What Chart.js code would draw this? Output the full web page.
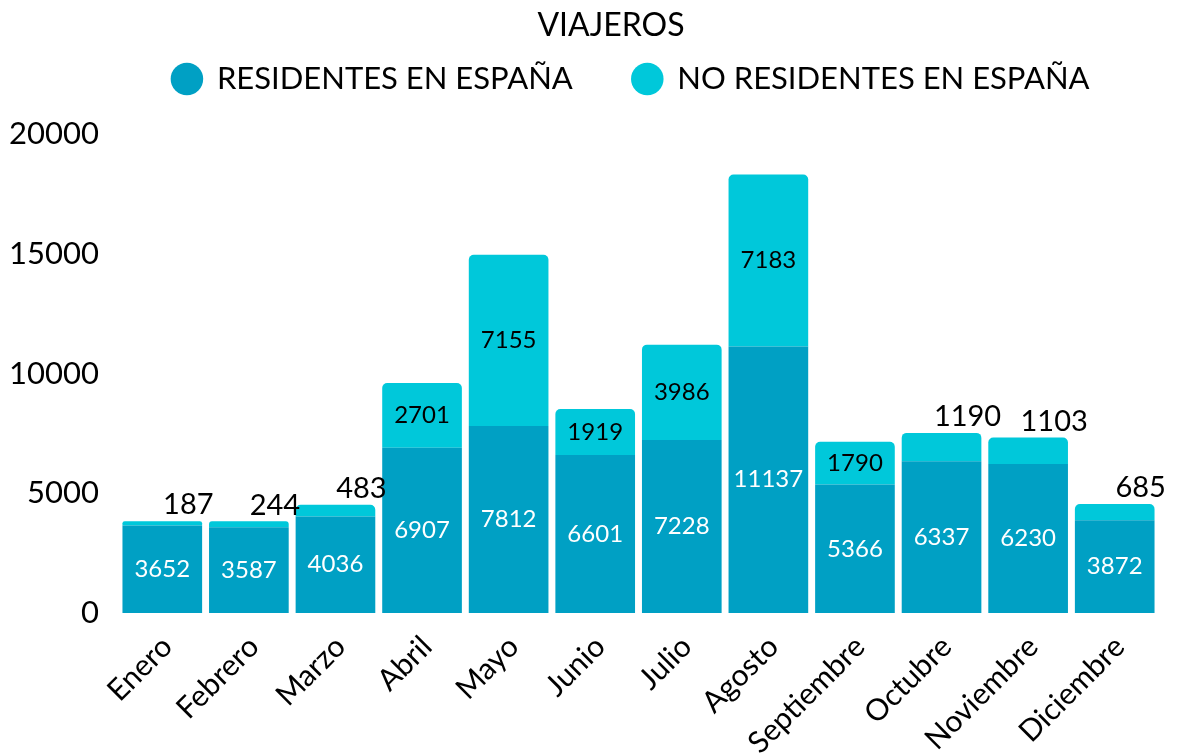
<!DOCTYPE html>
<html>
<head>
<meta charset="utf-8">
<title>Viajeros</title>
<script src="https://cdn.jsdelivr.net/npm/chart.js@4/dist/chart.umd.min.js"></script>
<style>
  html, body { margin: 0; padding: 0; background: #fff; overflow: hidden; }
  #wrap { width: 1200px; height: 754px; position: relative; }
</style>
</head>
<body>
<div id="wrap"><canvas id="myChart"></canvas></div>
<script>
// data
var months = ['Enero', 'Febrero', 'Marzo', 'Abril', 'Mayo', 'Junio', 'Julio', 'Agosto', 'Septiembre', 'Octubre', 'Noviembre', 'Diciembre'];
var residentes = [3652, 3587, 4036, 6907, 7812, 6601, 7228, 11137, 5366, 6337, 6230, 3872];
var noResidentes = [187, 244, 483, 2701, 7155, 1919, 3986, 7183, 1790, 1190, 1103, 685];
var yTicks = [0, 5000, 10000, 15000, 20000];

var colorRes = '#00a0c4';
var colorNoRes = '#00c8da';

Chart.defaults.font.family = 'Lato, "Noto Sans", sans-serif';
Chart.defaults.color = '#000';

// simple value labels (no datalabels plugin available)
var barLabels = {
    id: 'barLabels',
    afterDatasetsDraw: function (chart) {
        var ctx = chart.ctx;
        ctx.save();
        ctx.textAlign = 'center';
        ctx.textBaseline = 'middle';
        chart.data.datasets.forEach(function (ds, i) {
            var meta = chart.getDatasetMeta(i);
            meta.data.forEach(function (bar, j) {
                var v = ds.data[j];
                var h = bar.base - bar.y;
                if (i === 0) {
                    ctx.fillStyle = '#fff';
                    ctx.font = '24px Lato';
                    ctx.fillText(v, bar.x, bar.y + h / 2);
                } else if (h >= 36) {
                    ctx.fillStyle = '#000';
                    ctx.font = '24px Lato';
                    ctx.fillText(v, bar.x, bar.y + h / 2);
                } else {
                    // too thin: put it above the stack
                    ctx.fillStyle = '#000';
                    ctx.font = '29px Lato';
                    ctx.fillText(v, bar.x + 26, bar.y - 16);
                }
            });
        });
        ctx.restore();
    }
};

// nudge title / legend: wider gap between legend items, legend closer to title
var boxNudge = {
    id: 'boxNudge',
    beforeLayout: function (chart) {
        var lg = chart.legend;
        if (lg && !lg._nudged) {
            lg._nudged = true;
            var fit = lg.fit, draw = lg.draw;
            lg.fit = function () { fit.call(this); this.height = 90; };
            lg.draw = function () {
                var t = this.top, l = this.left, r = this.right;
                this.top = t - 41; this.left = l + 47; this.right = r + 47;
                draw.call(this);
                this.top = t; this.left = l; this.right = r;
            };
        }
        var tb = chart.titleBlock;
        if (tb && !tb._nudged) {
            tb._nudged = true;
            var tdraw = tb.draw;
            tb.draw = function () {
                var l = this.left, r = this.right;
                this.left = l + 27; this.right = r + 27;
                tdraw.call(this);
                this.left = l; this.right = r;
            };
        }
    }
};

var ctx = document.getElementById('myChart').getContext('2d');
var chart = new Chart(ctx, {
    type: 'bar',
    data: {
        labels: months,
        datasets: [
            {
                label: 'RESIDENTES EN ESPAÑA',
                data: residentes,
                backgroundColor: colorRes,
                borderWidth: 0,
                barPercentage: 0.92,
                categoryPercentage: 1
            },
            {
                label: 'NO RESIDENTES EN ESPAÑA',
                data: noResidentes,
                backgroundColor: colorNoRes,
                borderWidth: 0,
                borderRadius: { topLeft: 5, topRight: 5 },
                borderSkipped: 'bottom',
                barPercentage: 0.92,
                categoryPercentage: 1
            }
        ]
    },
    options: {
        responsive: true,
        maintainAspectRatio: false,
        animation: false,
        layout: { padding: { top: 6, right: 42, left: 10, bottom: 0 } },
        plugins: {
            title: {
                display: true,
                text: 'VIAJEROS',
                font: { size: 32, weight: 'normal', lineHeight: 1.2 },
                color: '#000',
                padding: 0
            },
            legend: {
                labels: {
                    usePointStyle: true,
                    pointStyle: 'circle',
                    boxWidth: 29,
                    boxHeight: 23,
                    padding: 60,
                    font: { size: 31 },
                    color: '#000'
                }
            },
            tooltip: { enabled: false }
        },
        scales: {
            x: {
                stacked: true,
                grid: { display: false },
                border: { display: false },
                afterFit: function (scale) {
                    scale.height = 141;
                    scale.paddingLeft = 0;
                    scale.paddingRight = 0;
                },
                ticks: {
                    maxRotation: 45,
                    minRotation: 45,
                    padding: 8,
                    labelOffset: 5,
                    font: { size: 30 },
                    color: '#000'
                }
            },
            y: {
                stacked: true,
                min: yTicks[0],
                max: yTicks[yTicks.length - 1],
                grid: { display: false, drawTicks: false },
                border: { display: false },
                afterBuildTicks: function (axis) {
                    axis.ticks = yTicks.map(function (v) { return { value: v }; });
                },
                afterFit: function (scale) { scale.width = 109; },
                ticks: {
                    padding: 20,
                    font: { size: 31 },
                    color: '#000',
                    callback: function (v) { return String(v); }
                }
            }
        }
    },
    plugins: [barLabels, boxNudge]
});
</script>
</body>
</html>
